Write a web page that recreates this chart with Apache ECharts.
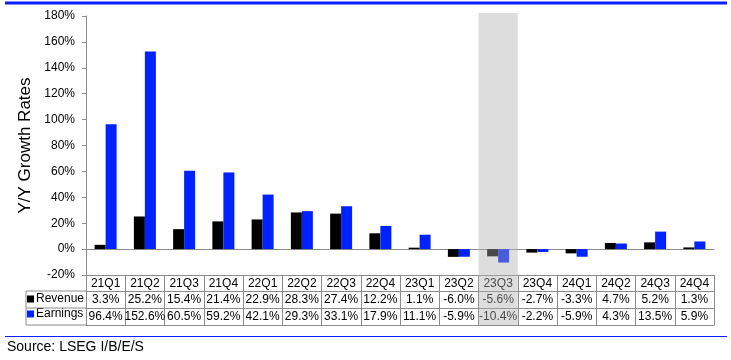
<!DOCTYPE html>
<html><head><meta charset="utf-8">
<script src="https://cdn.jsdelivr.net/npm/echarts@6/dist/echarts.min.js"></script>
<style>html,body{margin:0;padding:0;background:#fff}#c{width:731px;height:360px}</style>
</head><body><div id="c"></div>
<script>
const categories = ['21Q1','21Q2','21Q3','21Q4','22Q1','22Q2','22Q3','22Q4','23Q1','23Q2','23Q3','23Q4','24Q1','24Q2','24Q3','24Q4'];
const revenue = [3.3,25.2,15.4,21.4,22.9,28.3,27.4,12.2,1.1,-6.0,-5.6,-2.7,-3.3,4.7,5.2,1.3];
const earnings = [96.4,152.6,60.5,59.2,42.1,29.3,33.1,17.9,11.1,-5.9,-10.4,-2.2,-5.9,4.3,13.5,5.9];
const yMin = -20, yMax = 180, yInterval = 20;
const highlightQuarter = '23Q3';
const seriesNames = ['Revenue','Earnings'];

const FONT = 'Liberation Sans, Arial, sans-serif';
const BLUE = '#0022ff';
const GRAY = '#8c8c8c';
const G = {left: 86, right: 17, top: 16, bottom: 85};
const W = 731, H = 360;
const gridRight = W - G.right, gridBottom = H - G.bottom;
const rows = [0, 16, 33, 50]; // offsets of table lines below plot

function fmt(v){ return v.toFixed(1) + '%'; }
function tableAxis(offset, tickLen, showLine, labels){
  return {
    type: 'category', data: categories, position: 'bottom', offset: offset,
    boundaryGap: true,
    axisLine: {show: showLine, onZero: false, lineStyle: {color: GRAY, width: 1}},
    axisTick: {show: tickLen > 0, interval: 0, length: tickLen, lineStyle: {color: GRAY}},
    axisLabel: labels ? {show: true, interval: 0, margin: 3, fontSize: 12, color: '#000', fontFamily: FONT,
      formatter: labels} : {show: false},
    splitLine: {show: false}
  };
}

const chart = echarts.init(document.getElementById('c'), null, {renderer: 'canvas'});
const option = {
  animation: false,
  backgroundColor: '#fff',
  grid: {left: G.left, right: G.right, top: G.top, bottom: G.bottom, containLabel: false},
  title: {text: 'Source: LSEG I/B/E/S', left: 7, top: 340, padding: 0,
    textStyle: {fontSize: 14, fontWeight: 'normal', color: '#000', fontFamily: FONT}},
  legend: {
    orient: 'vertical', left: 27, top: 293, padding: 0, itemGap: 3,
    itemWidth: 7, itemHeight: 7, icon: 'rect', data: seriesNames,
    textStyle: {fontSize: 12, color: '#000', fontFamily: FONT, padding: [0,0,0,-3]}
  },
  xAxis: [
    {type: 'category', data: categories, boundaryGap: true,
     axisLine: {show: true, onZero: true, lineStyle: {color: GRAY}},
     axisTick: {show: false}, axisLabel: {show: false}},
    tableAxis(rows[0], 16, true, (v) => v),
    tableAxis(rows[1], 17, true, (v, i) => fmt(revenue[i])),
    tableAxis(rows[2], 17, true, (v, i) => fmt(earnings[i])),
    tableAxis(rows[3], 0, true, null)
  ],
  yAxis: {
    type: 'value', min: yMin, max: yMax, interval: yInterval,
    name: 'Y/Y Growth Rates', nameLocation: 'middle', nameGap: 45, nameRotate: 90,
    nameTextStyle: {fontSize: 17, color: '#000', fontFamily: FONT},
    axisLine: {show: true, lineStyle: {color: GRAY}},
    axisTick: {show: true, length: 4, lineStyle: {color: GRAY}},
    axisLabel: {formatter: '{value}%', fontSize: 12, color: '#000', margin: 11, fontFamily: FONT},
    splitLine: {show: false}
  },
  series: [
    {name: seriesNames[0], type: 'bar', data: revenue, barWidth: 11, barGap: '0%',
     itemStyle: {color: '#000'}},
    {name: seriesNames[1], type: 'bar', data: earnings, barWidth: 11, barGap: '0%',
     itemStyle: {color: BLUE}}
  ]
};
chart.setOption(option);

// shaded highlight column, computed from the category scale
const cx = chart.convertToPixel({xAxisIndex: 0}, highlightQuarter);
const band = (gridRight - G.left) / categories.length;
const tableBottom = gridBottom + rows[3];
chart.setOption({
  graphic: [
    {type: 'rect', z: 100, shape: {x: cx - band/2, y: 13, width: band, height: tableBottom - 13},
     style: {fill: 'rgba(175,175,175,0.42)'}},
    {type: 'polyline', z: 50, shape: {points: [[G.left, gridBottom + rows[1]], [26, gridBottom + rows[1]], [26, tableBottom], [G.left, tableBottom]]},
     style: {stroke: GRAY, lineWidth: 1, fill: null}},
    {type: 'line', z: 50, shape: {x1: 26, y1: gridBottom + rows[2], x2: G.left, y2: gridBottom + rows[2]},
     style: {stroke: GRAY, lineWidth: 1}},
    {type: 'line', z: 50, shape: {x1: 5, y1: 3, x2: 727, y2: 3}, style: {stroke: '#0a1eff', lineWidth: 3}},
    {type: 'line', z: 50, shape: {x1: 5, y1: 336.5, x2: 727, y2: 336.5}, style: {stroke: '#0a1eff', lineWidth: 1}}
  ]
});
</script></body></html>
